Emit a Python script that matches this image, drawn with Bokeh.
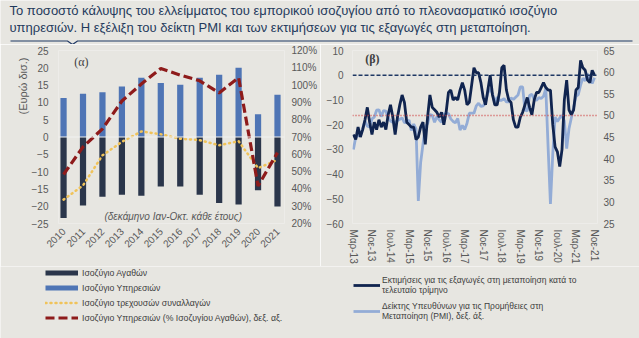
import numpy as np
from bokeh.plotting import figure
from bokeh.models import (Range1d, LinearAxis, FixedTicker, Legend, LegendItem,
                          Label, Span, PrintfTickFormatter, Title)
from bokeh.layouts import column, row
from bokeh.embed import file_html
from bokeh.resources import INLINE

# ---------------- data: panel (α) ----------------
years = [2010, 2011, 2012, 2013, 2014, 2015, 2016, 2017, 2018, 2019, 2020, 2021]
goods_balance = [-23.4, -19.8, -17.3, -16.7, -17.0, -14.3, -14.3, -16.7, -19.1, -19.5, -15.4, -20.1]
services_balance = [11.3, 12.5, 12.9, 14.6, 17.1, 15.6, 15.1, 17.1, 18.0, 20.0, 6.6, 12.2]
current_account = [-18.1, -14.0, -5.3, -1.4, 1.6, 0.8, -0.5, -0.9, -2.4, -1.2, -9.0, -6.6]
services_pct_of_goods = [48.3, 64.3, 74.7, 90.8, 100.6, 109.6, 105.8, 102.5, 95.5, 104.3, 41.7, 61.0]
left_ticks_a = [-25, -20, -15, -10, -5, 0, 5, 10, 15, 20, 25]
right_ticks_a = [20, 30, 40, 50, 60, 70, 80, 90, 100, 110, 120]

# ---------------- data: panel (β), monthly Mar-13 .. Nov-21 ----------------
export_expectations = [
    -24, -26, -21, -25, -22, -18, -13, -19, -24, -19, -22, -18,
    -21, -19, -22, -16, -12, -17, -24, -17, -12, -8, -11, -19,
    -20, -21, -21, -26, -25, -21, -19, -28, -17, -8, -13, -14,
    -15, -17, -15, -20, -15, -7, -6, -10, -9, -10, -6, -3,
    -6, -12, -11, -4, 3, 1, 1, -3, -9, -12, -6, 0,
    -8, -12, -12, -7, 3, 4, -6, -10, -11, -18, -21, -21,
    -17, -15, -12, -9, -13, -16, -10, -7, -7, -5, -3, -5,
    -6, -6, -20, -29, -31, -37, -30, -10, -2, -14, -16, -14,
    -6, -5, 6, 3, 2, -2, -3, 2, 0]
pmi = [
    42.1, 45.0, 45.3, 45.4, 47.0, 48.7, 47.5, 47.3, 49.2, 49.6,
    51.2, 51.3, 49.7, 51.1, 51.0, 49.4, 48.7, 48.4, 48.4, 48.8, 49.1, 49.4,
    48.3, 48.4, 48.9, 46.5, 48.0, 46.9, 30.2, 39.1, 43.3, 47.3, 48.1, 50.2,
    50.0, 48.4, 49.7, 49.0, 48.4, 50.4, 50.4, 50.4, 49.2, 48.6, 48.3, 49.3,
    46.6, 47.7, 46.7, 48.2, 50.5, 50.5, 50.5, 52.2, 52.8, 52.1, 52.2, 53.1,
    55.2, 56.1, 55.0, 52.9, 54.2, 53.5, 53.5, 53.9, 53.1, 53.1, 54.0, 53.7,
    54.2, 54.7, 56.6, 56.6, 51.2, 51.0, 54.6, 54.9, 53.6, 53.5, 54.1, 53.9,
    54.4, 56.2, 42.5, 29.5, 41.1, 49.6, 48.6, 49.4, 50.0, 48.7, 42.3, 46.9,
    49.4, 51.8, 54.4, 54.8, 57.0, 58.6, 58.0, 59.6, 58.4, 57.4, 58.7]
month_index = list(range(len(pmi)))
month_tick_pos = [0, 8, 16, 24, 32, 40, 48, 56, 64, 72, 80, 88, 96, 104]
month_tick_labels = ["Μαρ-13", "Νοε-13", "Ιουλ-14", "Μαρ-15", "Νοε-15", "Ιουλ-16", "Μαρ-17",
                     "Νοε-17", "Ιουλ-18", "Μαρ-19", "Νοε-19", "Ιουλ-20", "Μαρ-21", "Νοε-21"]
left_ticks_b = [-60, -50, -40, -30, -20, -10, 0, 10]
right_ticks_b = [25, 30, 35, 40, 45, 50, 55, 60, 65]

# ---------------- style ----------------
BG = "#e7e6e1"
FONT = "Liberation Sans"
TXT = "#595959"
C_GOODS = "#2b364b"
C_SERV = "#4f75b5"
C_CA = "#f0c35a"
C_PCT = "#8e1b1b"
C_EXP = "#10244f"
C_PMI = "#93acd6"
TITLE_H = 44
PANEL_H = 222
LEG_H = 338 - TITLE_H - PANEL_H


def style_axis(ax, size="10px"):
    ax.axis_line_color = None
    ax.major_tick_line_color = None
    ax.minor_tick_line_color = None
    ax.major_tick_out = 0
    ax.major_tick_in = 0
    ax.minor_tick_out = 0
    ax.major_label_text_font = FONT
    ax.major_label_text_font_size = size
    ax.major_label_text_color = TXT


def base_fig(width, xr, yr, left, right, top, bottom):
    f = figure(width=width, height=PANEL_H, x_range=xr, y_range=yr,
               toolbar_location=None, output_backend="svg",
               min_border_left=left, min_border_right=right,
               min_border_top=top, min_border_bottom=bottom,
               background_fill_color=BG, border_fill_color=BG,
               outline_line_color=None)
    f.xgrid.visible = False
    f.ygrid.visible = False
    return f


def blank_fig(width, height):
    f = figure(width=width, height=height, x_range=Range1d(0, width), y_range=Range1d(height, 0),
               toolbar_location=None, output_backend="svg", min_border=0,
               x_axis_type=None, y_axis_type=None,
               background_fill_color=BG, border_fill_color=BG, outline_line_color=None)
    f.xgrid.visible = False
    f.ygrid.visible = False
    return f


# ---------------- title strip ----------------
pt = blank_fig(639, TITLE_H)
pt.line([10, 67, 72, 77, 632], [40.5, 40.5, 44, 40.5, 40.5], line_color="#1f3864", line_width=1.2)
for yy, t in [(10, "Το ποσοστό κάλυψης του ελλείμματος του εμπορικού ισοζυγίου από το πλεονασματικό ισοζύγιο"),
              (27, "υπηρεσιών.  Η εξέλιξη του δείκτη PMI και των εκτιμήσεων  για τις εξαγωγές στη μεταποίηση.")]:
    pt.add_layout(Label(x=9, y=yy, text=t, text_baseline="middle", text_align="left",
                        text_font=FONT, text_font_size="13px", text_color="#1f3a5c"))

# ---------------- panel (α) ----------------
p1 = base_fig(320, Range1d(2009.74, 2021.36), Range1d(-25, 25), 58, 32, 6, 39)
p1.extra_y_ranges = {"pct": Range1d(20, 120)}
p1.yaxis.ticker = FixedTicker(ticks=left_ticks_a)
p1.xaxis.ticker = FixedTicker(ticks=years)
p1.xaxis.major_label_orientation = np.pi / 4
p1.xaxis.major_label_standoff = 6
p1.yaxis.major_label_standoff = 10
ax_r = LinearAxis(y_range_name="pct", ticker=FixedTicker(ticks=right_ticks_a),
                  formatter=PrintfTickFormatter(format="%d%%"), major_label_standoff=7)
p1.add_layout(ax_r, "right")
for ax in [p1.xaxis[0], p1.yaxis[0], ax_r]:
    style_axis(ax)
p1.add_layout(Title(text="(Ευρώ δισ.)", align="right", offset=7, vertical_align="bottom",
                    text_font=FONT, text_font_size="11px", text_font_style="normal",
                    text_color=TXT, standoff=0), "left")

p1.vbar(x=years, top=services_balance, bottom=0, width=0.32, fill_color=C_SERV, line_color=None)
p1.vbar(x=years, top=goods_balance, bottom=0, width=0.32, fill_color=C_GOODS, line_color=None)
p1.add_layout(Span(location=0, dimension="width", line_color="#f2f2f2", line_width=1.2))
p1.line(years, current_account, line_color=C_CA, line_width=2.5, line_dash="1 4", line_cap="round")
p1.line(years, services_pct_of_goods, y_range_name="pct", line_color=C_PCT,
        line_width=3.2, line_dash="9 4")

p1.add_layout(Label(x=2010.92, y=21.6, text="(α)", text_baseline="middle", text_align="center",
                    text_font="Liberation Serif", text_font_size="12px", text_color="#404040"))
p1.add_layout(Label(x=2015.64, y=-23.0, text="(δεκάμηνο Ιαν-Οκτ. κάθε έτους)", text_baseline="middle",
                    text_align="center", text_font=FONT, text_font_size="10px",
                    text_font_style="italic", text_color=TXT))

# ---------------- panel (β) ----------------
p2 = base_fig(319, Range1d(-0.4, 105.3), Range1d(-60, 10), 32, 42, 5, 40)
p2.extra_y_ranges = {"pmi": Range1d(25, 65)}
p2.yaxis.ticker = FixedTicker(ticks=left_ticks_b)
p2.yaxis.major_label_standoff = 9
p2.xaxis.ticker = FixedTicker(ticks=month_tick_pos)
p2.xaxis.major_label_overrides = {p: l for p, l in zip(month_tick_pos, month_tick_labels)}
p2.xaxis.major_label_orientation = "vertical"
p2.xaxis.major_label_standoff = 6
ax_r2 = LinearAxis(y_range_name="pmi", ticker=FixedTicker(ticks=right_ticks_b), major_label_standoff=6)
p2.add_layout(ax_r2, "right")
for ax in [p2.xaxis[0], p2.yaxis[0], ax_r2]:
    style_axis(ax)

p2.add_layout(Span(location=0, dimension="width", line_color="#1f3864", line_width=1.5, line_dash="4 2"))
p2.add_layout(Span(location=50, dimension="width", y_range_name="pmi", line_color="#d04a4a",
                   line_width=1.5, line_dash="1 2"))
p2.line(month_index, pmi, y_range_name="pmi", line_color=C_PMI, line_width=2.8)
p2.line(month_index, export_expectations, line_color=C_EXP, line_width=2.8)

p2.add_layout(Label(x=8.2, y=6.4, text="(β)", text_baseline="middle", text_align="center",
                    text_font="Liberation Serif", text_font_size="12px", text_font_style="bold",
                    text_color="#404040"))

# ---------------- legend strip (keys for both panels) ----------------
lg = blank_fig(639, LEG_H)
off_x, off_y = [-100, -90], [-100, -100]   # keys only: kept outside the visible strip
k_goods = lg.line(off_x, off_y, line_color=C_GOODS, line_width=5)
k_serv = lg.line(off_x, off_y, line_color=C_SERV, line_width=5)
k_ca = lg.line(off_x, off_y, line_color=C_CA, line_width=2.5, line_dash="1 4", line_cap="round")
k_pct = lg.line(off_x, off_y, line_color=C_PCT, line_width=3.2, line_dash="9 4")
k_exp = lg.line(off_x, off_y, line_color=C_EXP, line_width=2.8)
k_pmi = lg.line(off_x, off_y, line_color=C_PMI, line_width=2.8)

leg1 = Legend(items=[LegendItem(label="Ισοζύγιο Αγαθών", renderers=[k_goods]),
                     LegendItem(label="Ισοζύγιο Υπηρεσιών", renderers=[k_serv]),
                     LegendItem(label="Ισοζύγιο τρεχουσών συναλλαγών", renderers=[k_ca]),
                     LegendItem(label="Ισοζύγιο Υπηρεσιών (% Ισοζυγίου Αγαθών), δεξ. αξ.", renderers=[k_pct])],
              location=(45, 14), orientation="vertical", padding=0, margin=0,
              glyph_width=33, glyph_height=13, label_height=13, spacing=2, label_standoff=4,
              label_text_font=FONT, label_text_font_size="8.7px", label_text_color="#404040",
              background_fill_alpha=0, border_line_color=None)
lg.add_layout(leg1)

leg2 = Legend(items=[LegendItem(label="Εκτιμήσεις για τις εξαγωγές στη μεταποίηση κατά το\nτελευταίο τρίμηνο",
                                renderers=[k_exp]),
                     LegendItem(label="Δείκτης Υπευθύνων για τις Προμήθειες στη\nΜεταποίηση (PMI), δεξ. άξ.",
                                renderers=[k_pmi])],
              location=(353, 17), orientation="vertical", padding=0, margin=0,
              glyph_width=27, glyph_height=4, label_standoff=2, spacing=6,
              label_text_font=FONT, label_text_font_size="8.5px", label_text_color="#404040",
              background_fill_alpha=0, border_line_color=None)
lg.add_layout(leg2)

layout = column(pt, row(p1, p2, spacing=0), lg, spacing=0)
open("out.html", "w").write(file_html(layout, INLINE))
